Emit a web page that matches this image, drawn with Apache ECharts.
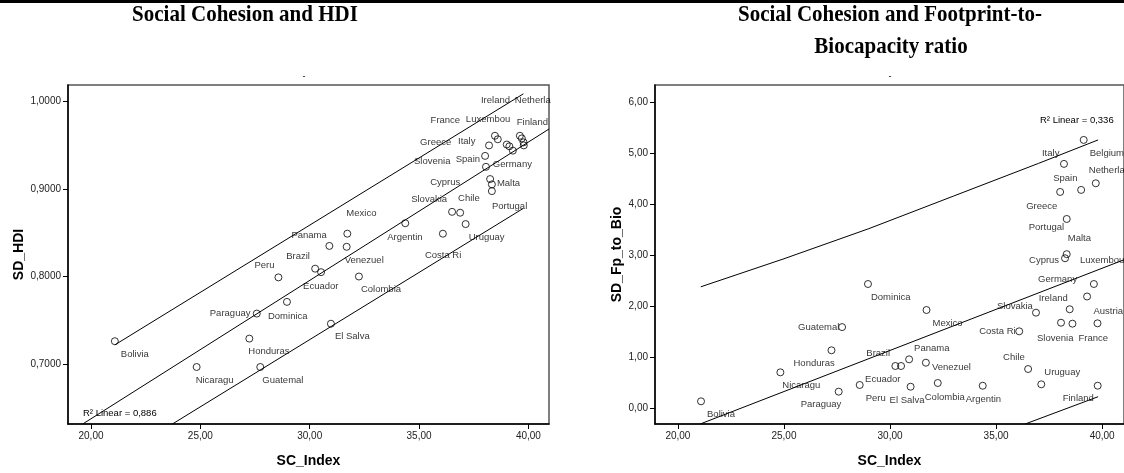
<!DOCTYPE html>
<html>
<head>
<meta charset="utf-8">
<script src="https://cdn.jsdelivr.net/npm/echarts@6/dist/echarts.min.js"></script>
<style>
  html, body { margin: 0; padding: 0; background: #fff; }
  #chart { width: 1124px; height: 473px; }
</style>
</head>
<body>
<div id="chart"></div>
<script>
// Country labels as printed (8-character truncation)
const countries = ['Bolivia','Nicaragu','Honduras','Paraguay','Guatemal','Peru','Dominica','Brazil','Ecuador','Panama',
  'El Salva','Venezuel','Mexico','Colombia','Argentin','Costa Ri','Uruguay','Chile','Slovakia','Greece',
  'Slovenia','Italy','Cyprus','Portugal','Malta','Ireland','Austria','Spain','Belgium','Germany',
  'Luxembou','Netherla','France','Finland'];

// Social cohesion index (shared x variable)
const scIndex = [21.09,24.83,27.24,27.58,27.74,28.57,28.96,30.25,30.52,30.90,
  30.97,31.69,31.72,32.25,34.37,36.09,37.13,36.51,36.88,38.02,
  38.06,38.20,38.25,38.33,38.33,38.47,38.60,39.01,39.13,39.29,
  39.61,39.70,39.78,39.79];

// Human development index
const sdHdi = [0.726,0.6965,0.729,0.7576,0.6965,0.799,0.771,0.809,0.805,0.835,
  0.746,0.834,0.849,0.800,0.861,0.849,0.860,0.874,0.873,0.938,
  0.9255,0.950,0.9115,0.9054,0.8977,0.961,0.957,0.951,0.949,0.944,
  0.961,0.958,0.9535,0.950];

// Footprint-to-biocapacity ratio
const sdFpBio = [0.145,0.713,1.145,0.334,1.60,0.465,2.445,0.837,0.837,0.968,
  0.431,0.902,1.935,0.504,0.45,1.517,0.478,0.778,1.883,4.25,
  1.686,4.80,2.95,3.72,3.03,1.95,1.667,4.29,5.27,2.20,
  2.445,4.42,1.674,0.451];

// Fit line and prediction bounds (points along SC_Index)
const hdiFit   = [[19.62,0.6313],[40.94,0.9687]];
const hdiUpper = [[21.09,0.7218],[39.77,1.009]];
const hdiLower = [[23.72,0.6313],[39.77,0.878]];
const fpbFit   = [[21.05,-0.30],[41.03,2.92]];
const fpbUpper = [[21.08,2.39],[25,2.94],[29,3.53],[33,4.17],[37,4.81],[39.81,5.27]];
const fpbLower = [[36.37,-0.30],[39.81,0.235]];

const xTicks   = [20,25,30,35,40];
const hdiTicks = [0.7,0.8,0.9,1.0];
const fpbTicks = [0,1,2,3,4,5,6];

const hdiR2 = 'R\u00B2 Linear = 0,886';
const fpbR2 = 'R\u00B2 Linear = 0,336';

// Label placement (pixel offset of the label's left edge / middle from the marker)
const hdiLabelOffset = {
  'Bolivia':[6,13],'Nicaragu':[-1,13],'Honduras':[-1,13],'Paraguay':[-47,0],'Guatemal':[2,13],
  'Peru':[-24,-12],'Dominica':[-19,14],'Brazil':[-29,-12],'Ecuador':[-18,14],'Panama':[-38,-11],
  'El Salva':[4,13],'Venezuel':[-2,14],'Mexico':[-1,-20],'Colombia':[2,13],'Argentin':[-18,14],
  'Costa Ri':[-18,22],'Uruguay':[3,13],'Chile':[6,-13],'Slovakia':[-49,-13],'Greece':[-65,-14],
  'Slovenia':[-72,-5],'Italy':[-31,-4],'Cyprus':[-60,3],'Portugal':[0,22],'Malta':[5,-8],
  'Ireland':[-14,-35],'Spain':[-51,15],'Germany':[-20,14],'Luxembou':[-54,-16],'Netherla':[-7,-38],
  'France':[-93,-22],'Finland':[-7,-23]
};
const fpbLabelOffset = {
  'Bolivia':[6,13],'Nicaragu':[2,13],'Honduras':[-38,13],'Paraguay':[-38,13],'Guatemal':[-44,0],
  'Dominica':[3,13],'Mexico':[6,13],'Brazil':[-29,-13],'Panama':[5,-11],'Venezuel':[6,5],
  'Ecuador':[-36,13],'Peru':[6,13],'El Salva':[-21,14],'Colombia':[-13,14],'Argentin':[-17,14],
  'Costa Ri':[-40,0],'Chile':[-25,-12],'Uruguay':[3,-12],'Finland':[-35,13],'Slovakia':[-39,-6],
  'Ireland':[-31,-11],'Germany':[-49,-17],'Austria':[21,-12],'Slovenia':[-24,16],'France':[-19,15],
  'Italy':[-22,-11],'Belgium':[6,13],'Spain':[-28,-12],'Netherla':[-7,-13],'Greece':[-34,14],
  'Portugal':[-38,8],'Malta':[1,-16],'Cyprus':[-36,2],'Luxembou':[-14,-24]
};

const SANS = '"Liberation Sans", Arial, Helvetica, sans-serif';
const SERIF = '"Liberation Serif", "Times New Roman", serif';

function points(yValues, offsets) {
  return countries.map((name, i) => {
    const off = offsets[name];
    return {
      name: name,
      value: [scIndex[i], yValues[i]],
      label: off ? { show: true, offset: off } : { show: false }
    };
  });
}

function axis(gridIndex, min, max, ticks, digits, name, nameGap) {
  return {
    type: 'value', gridIndex, min, max,
    name, nameLocation: 'middle', nameGap,
    nameTextStyle: { fontFamily: SANS, fontWeight: 'bold', fontSize: 14, color: '#000' },
    axisLine: { show: true, onZero: false, lineStyle: { color: '#000', width: 1.5 } },
    axisTick: { show: true, inside: false, length: 5, customValues: ticks, lineStyle: { color: '#000', width: 1 } },
    axisLabel: {
      customValues: ticks, margin: 7, fontFamily: SANS, fontSize: 10, color: '#222',
      formatter: v => Number(v).toFixed(digits).replace('.', ',')
    },
    splitLine: { show: false }
  };
}

function scatter(idx, data) {
  return {
    type: 'scatter', xAxisIndex: idx, yAxisIndex: idx, data,
    symbol: 'circle', symbolSize: 7, z: 3,
    itemStyle: { color: 'rgba(255,255,255,0)', borderColor: '#000', borderWidth: 1 },
    label: {
      position: 'inside', align: 'left', verticalAlign: 'middle',
      formatter: '{b}', color: '#000', fontFamily: SANS, fontSize: 9.5
    },
    emphasis: { disabled: true }
  };
}

function line(idx, data) {
  return {
    type: 'line', xAxisIndex: idx, yAxisIndex: idx, data,
    symbol: 'none', smooth: false, clip: true, z: 2,
    lineStyle: { color: '#000', width: 1 },
    emphasis: { disabled: true }
  };
}

function title(text, x, y) {
  return {
    type: 'text', x: x, y: y, scaleY: 1.1,
    style: { text: text, x: 0, y: 0, textAlign: 'center', textVerticalAlign: 'middle', font: 'bold 21px ' + SERIF, fill: '#000' }
  };
}

const chart = echarts.init(document.getElementById('chart'), null, { renderer: 'canvas' });
chart.setOption({
  animation: false,
  backgroundColor: '#fff',
  grid: [
    { left: 68, top: 85, width: 481, height: 339, show: true, borderColor: '#555', borderWidth: 1.5, backgroundColor: 'transparent' },
    { left: 655, top: 85, width: 471, height: 339, show: true, borderColor: '#555', borderWidth: 1.5, backgroundColor: 'transparent' }
  ],
  xAxis: [
    axis(0, 18.948, 40.942, xTicks, 2, 'SC_Index', 30),
    axis(1, 18.92, 41.03, xTicks, 2, 'SC_Index', 30)
  ],
  yAxis: [
    axis(0, 0.6313, 1.0191, hdiTicks, 4, 'SD_HDI', 42),
    axis(1, -0.30, 6.347, fpbTicks, 2, 'SD_Fp_to_Bio', 29)
  ],
  series: [
    line(0, hdiFit), line(0, hdiUpper), line(0, hdiLower),
    scatter(0, points(sdHdi, hdiLabelOffset)),
    line(1, fpbFit), line(1, fpbUpper), line(1, fpbLower),
    scatter(1, points(sdFpBio, fpbLabelOffset))
  ],
  graphic: [
    { type: 'rect', shape: { x: 0, y: 0, width: 1124, height: 3 }, style: { fill: '#000' } },
    title('Social Cohesion and HDI', 245, 15),
    title('Social Cohesion and Footprint-to-', 890, 15),
    title('Biocapacity ratio', 891, 47),
    { type: 'text', style: { text: '-', x: 304, y: 77, textAlign: 'center', textVerticalAlign: 'middle', font: '9px ' + SANS, fill: '#000' } },
    { type: 'text', style: { text: '-', x: 890, y: 77, textAlign: 'center', textVerticalAlign: 'middle', font: '9px ' + SANS, fill: '#000' } },
    { type: 'text', style: { text: hdiR2, x: 83, y: 413, textAlign: 'left', textVerticalAlign: 'middle', font: '9.5px ' + SANS, fill: '#000' } },
    { type: 'text', style: { text: fpbR2, x: 1040, y: 120, textAlign: 'left', textVerticalAlign: 'middle', font: '9.5px ' + SANS, fill: '#000' } }
  ]
});
</script>
</body>
</html>
